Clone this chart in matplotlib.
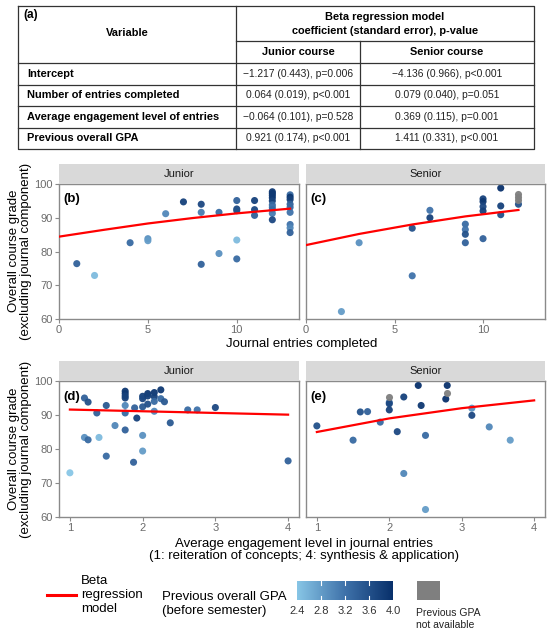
import numpy as np
import matplotlib
matplotlib.use("Agg")
import matplotlib.pyplot as plt
from matplotlib.colors import LinearSegmentedColormap
from matplotlib.patches import Rectangle

plt.rcParams["font.family"] = ["Liberation Sans", "DejaVu Sans"]

W, H = 550, 633

# table (a)
TABLE_HEADER = ["Beta regression model", "coefficient (standard error), p-value"]
TABLE_COURSES = ["Junior course", "Senior course"]
TABLE_VARIABLES = ["Intercept", "Number of entries completed",
                   "Average engagement level of entries", "Previous overall GPA"]
TABLE_JUNIOR = ["\u22121.217 (0.443), p=0.006", "0.064 (0.019), p<0.001",
                "\u22120.064 (0.101), p=0.528", "0.921 (0.174), p<0.001"]
TABLE_SENIOR = ["\u22124.136 (0.966), p<0.001", "0.079 (0.040), p=0.051",
                "0.369 (0.115), p=0.001", "1.411 (0.331), p<0.001"]

# (b) junior: entries completed
jr_entries = [1, 2, 4, 5, 5, 6, 7, 8, 8, 8, 9, 9, 10, 10, 10, 10, 10, 11, 11, 11,
              12, 12, 12, 12, 12, 12, 12, 12, 12, 12,
              13, 13, 13, 13, 13, 13, 13, 13, 13]
jr_grade_b = [76.4, 72.9, 82.6, 83.8, 83.2, 91.2, 94.7, 94.0, 91.6, 76.2, 91.6, 79.4,
              95.1, 92.6, 92.1, 83.4, 77.8, 95.1, 92.4, 90.7,
              97.7, 97.2, 96.6, 95.9, 95.0, 93.8, 93.1, 92.4, 91.3, 89.4,
              96.8, 96.1, 95.4, 94.0, 93.1, 91.6, 88.0, 87.0, 85.6]
jr_gpa_b = [3.4, 2.5, 3.3, 2.9, 2.8, 3.0, 3.8, 3.7, 3.1, 3.4, 3.3, 2.9,
            3.4, 3.7, 3.6, 2.5, 3.3, 3.8, 3.7, 3.4,
            3.9, 3.9, 3.9, 3.9, 3.8, 3.3, 3.2, 3.3, 3.1, 3.7,
            3.3, 3.9, 3.8, 3.4, 3.3, 3.2, 3.2, 3.0, 3.4]
jr_fit_b_x = [0, 2.5, 5, 7.5, 10, 13]
jr_fit_b_y = [84.4, 86.4, 88.3, 89.9, 91.3, 92.7]

# (c) senior: entries completed
sr_entries = [2, 3, 6, 6, 7, 7, 9, 9, 9, 9, 10, 10, 10, 10, 10, 11, 11, 11, 12, 12, 12, 12]
sr_grade_c = [62.2, 82.6, 86.9, 72.8, 92.2, 90.0, 88.1, 86.5, 85.1, 82.6,
              95.6, 94.8, 93.3, 92.0, 83.8, 98.8, 93.5, 90.9, 96.9, 96.2, 95.4, 94.0]
sr_gpa_c = [2.8, 2.9, 3.6, 3.2, 3.2, 3.8, 3.3, 3.2, 3.6, 3.4,
            3.8, 3.9, 3.7, 3.8, 3.4, 4.0, 3.8, 3.6, np.nan, np.nan, np.nan, 3.6]
sr_fit_c_x = [0, 3, 6, 9, 12]
sr_fit_c_y = [81.9, 85.2, 88.0, 90.4, 92.3]

# (d) junior: engagement level
jr_level = [1.0, 1.2, 1.25, 1.2, 1.25, 1.37, 1.4, 1.5, 1.5, 1.62,
            1.76, 1.76, 1.76, 1.76, 1.76, 1.76, 1.76, 1.875, 1.89, 1.92,
            2.0, 2.0, 2.0, 2.0, 2.0, 2.07, 2.07, 2.07, 2.16, 2.16, 2.16, 2.16,
            2.25, 2.25, 2.3, 2.38, 2.62, 2.75, 3.0, 4.0]
jr_grade_d = [73.0, 95.0, 93.8, 83.4, 82.7, 90.6, 83.4, 92.8, 77.9, 86.9,
              97.0, 96.3, 95.6, 95.0, 92.8, 90.6, 85.6, 76.1, 92.1, 89.1,
              95.5, 94.8, 92.4, 84.0, 79.4, 96.3, 95.6, 93.2, 96.6, 95.4, 94.0, 91.1,
              97.4, 94.8, 93.9, 87.7, 91.5, 91.5, 92.2, 76.5]
jr_gpa_d = [2.4, 3.4, 3.6, 2.9, 3.3, 3.4, 2.5, 3.5, 3.3, 3.0,
            3.9, 3.9, 3.8, 3.8, 3.0, 3.3, 3.4, 3.4, 3.4, 3.8,
            3.8, 3.7, 3.5, 2.9, 2.8, 3.9, 3.8, 3.6, 3.9, 3.8, 3.3, 3.0,
            3.9, 3.3, 3.5, 3.5, 3.3, 3.2, 3.7, 3.4]
jr_fit_d_x = [1, 2, 3, 4]
jr_fit_d_y = [91.6, 91.1, 90.6, 90.1]

# (e) senior: engagement level
sr_level = [1.0, 1.5, 1.6, 1.7, 1.875, 2.0, 2.0, 2.0, 2.0, 2.11, 2.2, 2.2,
            2.4, 2.44, 2.5, 2.5, 2.8, 2.8, 2.78, 3.14, 3.14, 3.38, 3.67]
sr_grade_e = [86.8, 82.6, 90.9, 91.0, 87.9, 95.2, 93.7, 93.3, 91.5, 85.1, 95.3, 72.8,
              98.7, 92.8, 84.0, 62.2, 98.7, 96.4, 94.7, 92.0, 89.9, 86.5, 82.6]
sr_gpa_e = [3.6, 3.3, 3.6, 3.4, 3.3, np.nan, 3.4, 3.7, 3.8, 3.7, 3.8, 3.0,
            4.0, 3.9, 3.3, 2.8, 4.0, np.nan, 4.0, 2.9, 3.7, 3.0, 2.8]
sr_fit_e_x = [1, 2, 3, 4]
sr_fit_e_y = [85.0, 89.0, 92.0, 94.3]

GPA_TICKS = [2.4, 2.8, 3.2, 3.6, 4.0]
Y_TICKS = [60, 70, 80, 90, 100]

CMAP = LinearSegmentedColormap.from_list("gpa", ["#88c6e6", "#3f72aa", "#08306b"])
NA_COLOR = "#7f7f7f"
TICK_COLOR = "#6b6b6b"
BORDER = "#8a8a8a"


def px_axes(fig, left, top, right, bottom):
    return fig.add_axes([left / W, 1 - bottom / H, (right - left) / W, (bottom - top) / H])


def draw_table(ov):
    left, mid1, mid2, right = 18, 236, 360, 534
    rows = [6, 41, 63, 84.5, 106, 127.5, 149]
    lw, col = 0.9, "#333333"
    ov.plot([left, right, right, left, left], [rows[0], rows[0], rows[-1], rows[-1], rows[0]],
            color=col, lw=lw)
    ov.plot([mid1, mid1], [rows[0], rows[-1]], color=col, lw=lw)
    ov.plot([mid2, mid2], [rows[1], rows[-1]], color=col, lw=lw)
    ov.plot([mid1, right], [rows[1], rows[1]], color=col, lw=lw)
    for r in rows[2:-1]:
        ov.plot([left, right], [r, r], color=col, lw=lw)

    fs = 7.9
    vfs = 7.4
    ov.text(left + 5, 15, "(a)", fontsize=8.5, fontweight="bold", va="center")
    ov.text((left + mid1) / 2, 33, "Variable", fontsize=fs, fontweight="bold",
            ha="center", va="center")
    ov.text((mid1 + right) / 2, 17, TABLE_HEADER[0], fontsize=fs, fontweight="bold",
            ha="center", va="center")
    ov.text((mid1 + right) / 2, 31, TABLE_HEADER[1], fontsize=fs, fontweight="bold",
            ha="center", va="center")
    ov.text((mid1 + mid2) / 2, 52, TABLE_COURSES[0], fontsize=fs, fontweight="bold",
            ha="center", va="center")
    ov.text((mid2 + right) / 2, 52, TABLE_COURSES[1], fontsize=fs, fontweight="bold",
            ha="center", va="center")
    for i, name in enumerate(TABLE_VARIABLES):
        yc = (rows[i + 2] + rows[i + 3]) / 2
        ov.text(left + 9, yc, name, fontsize=fs, fontweight="bold", va="center")
        ov.text((mid1 + mid2) / 2, yc, TABLE_JUNIOR[i], fontsize=vfs, ha="center",
                va="center", color="#222222")
        ov.text((mid2 + right) / 2, yc, TABLE_SENIOR[i], fontsize=vfs, ha="center",
                va="center", color="#222222")


def draw_panel(fig, box, x, y, gpa, fit_x, fit_y, xlim, xticks, strip, tag, show_y):
    left, top, right, bottom = box
    ax = px_axes(fig, left, top, right, bottom)
    x = np.asarray(x, float)
    y = np.asarray(y, float)
    gpa = np.asarray(gpa, float)
    ok = ~np.isnan(gpa)
    ax.scatter(x[ok], y[ok], c=gpa[ok], cmap=CMAP, vmin=2.4, vmax=4.0,
               s=26, linewidths=0, alpha=0.95, zorder=2)
    ax.scatter(x[~ok], y[~ok], color=NA_COLOR, s=26, linewidths=0, alpha=0.95, zorder=2)
    ax.plot(fit_x, fit_y, color="red", lw=1.6, zorder=3)
    ax.set_xlim(*xlim)
    ax.set_ylim(60, 100)
    ax.set_xticks(xticks)
    ax.set_yticks(Y_TICKS)
    for s in ax.spines.values():
        s.set_color(BORDER)
        s.set_linewidth(1.0)
    ax.tick_params(colors=BORDER, labelcolor=TICK_COLOR, labelsize=8, length=3,
                   width=0.8, pad=1.5)
    if not show_y:
        ax.tick_params(axis="y", left=False, labelleft=False)
    ax.text(0.02, 0.93, tag, transform=ax.transAxes, fontsize=9.5, fontweight="bold",
            va="top", ha="left")

    sax = px_axes(fig, left, top - 20, right, top)
    sax.set_facecolor("#d9d9d9")
    sax.set_xticks([])
    sax.set_yticks([])
    for s in sax.spines.values():
        s.set_visible(False)
    sax.text(0.5, 0.5, strip, transform=sax.transAxes, ha="center", va="center",
             fontsize=8, color="#1a1a1a")
    return ax


def draw_legend(fig, ov):
    ov.plot([47, 76], [595, 595], color="red", lw=2.2)
    ov.text(81, 595, "Beta\nregression\nmodel", fontsize=9.5, va="center",
            ha="left", linespacing=1.2)
    ov.text(287, 604, "Previous overall GPA\n(before semester)", fontsize=9.5,
            va="center", ha="right", multialignment="left", linespacing=1.2)

    cax = px_axes(fig, 297, 581, 393, 600)
    grad = np.linspace(GPA_TICKS[0], GPA_TICKS[-1], 256)[None, :]
    cax.imshow(grad, aspect="auto", cmap=CMAP, vmin=2.4, vmax=4.0,
               extent=[GPA_TICKS[0], GPA_TICKS[-1], 0, 1])
    for t in GPA_TICKS[1:-1]:
        cax.plot([t, t], [0, 0.2], color="white", lw=0.8)
        cax.plot([t, t], [0.8, 1], color="white", lw=0.8)
    cax.set_xlim(GPA_TICKS[0], GPA_TICKS[-1])
    cax.set_ylim(0, 1)
    cax.set_xticks(GPA_TICKS)
    cax.set_xticklabels([f"{t:.1f}" for t in GPA_TICKS])
    cax.set_yticks([])
    cax.tick_params(axis="x", length=0, pad=4, labelsize=8, labelcolor="#333333")
    for s in cax.spines.values():
        s.set_visible(False)

    ov.add_patch(Rectangle((417, 581), 23, 19, color=NA_COLOR, lw=0))
    ov.text(416, 619, "Previous GPA\nnot available", fontsize=7.5, va="center",
            ha="left", linespacing=1.25, color="#222222")


def main():
    fig = plt.figure(figsize=(W / 100, H / 100), dpi=100)
    ov = fig.add_axes([0, 0, 1, 1])
    ov.set_xlim(0, W)
    ov.set_ylim(H, 0)
    ov.axis("off")

    draw_table(ov)

    draw_panel(fig, (59, 184, 299, 319), jr_entries, jr_grade_b, jr_gpa_b,
               jr_fit_b_x, jr_fit_b_y, (0, 13.5), [0, 5, 10], "Junior", "(b)", True)
    draw_panel(fig, (306, 184, 545, 319), sr_entries, sr_grade_c, sr_gpa_c,
               sr_fit_c_x, sr_fit_c_y, (0, 13.5), [0, 5, 10], "Senior", "(c)", False)
    draw_panel(fig, (59, 381, 299, 517), jr_level, jr_grade_d, jr_gpa_d,
               jr_fit_d_x, jr_fit_d_y, (0.85, 4.15), [1, 2, 3, 4], "Junior", "(d)", True)
    draw_panel(fig, (306, 381, 545, 517), sr_level, sr_grade_e, sr_gpa_e,
               sr_fit_e_x, sr_fit_e_y, (0.85, 4.15), [1, 2, 3, 4], "Senior", "(e)", False)

    ylab = "Overall course grade\n(excluding journal component)"
    ov.text(20, 251, ylab, rotation=90, fontsize=9.5, ha="center", va="center",
            multialignment="center", linespacing=1.1)
    ov.text(20, 449, ylab, rotation=90, fontsize=9.5, ha="center", va="center",
            multialignment="center", linespacing=1.1)
    ov.text(302, 344, "Journal entries completed", fontsize=9.5, ha="center", va="center")
    ov.text(304, 550, "Average engagement level in journal entries\n"
            "(1: reiteration of concepts; 4: synthesis & application)",
            fontsize=9.5, ha="center", va="center", linespacing=1.1)

    draw_legend(fig, ov)

    fig.savefig("out.png", dpi=100)


if __name__ == "__main__":
    main()
